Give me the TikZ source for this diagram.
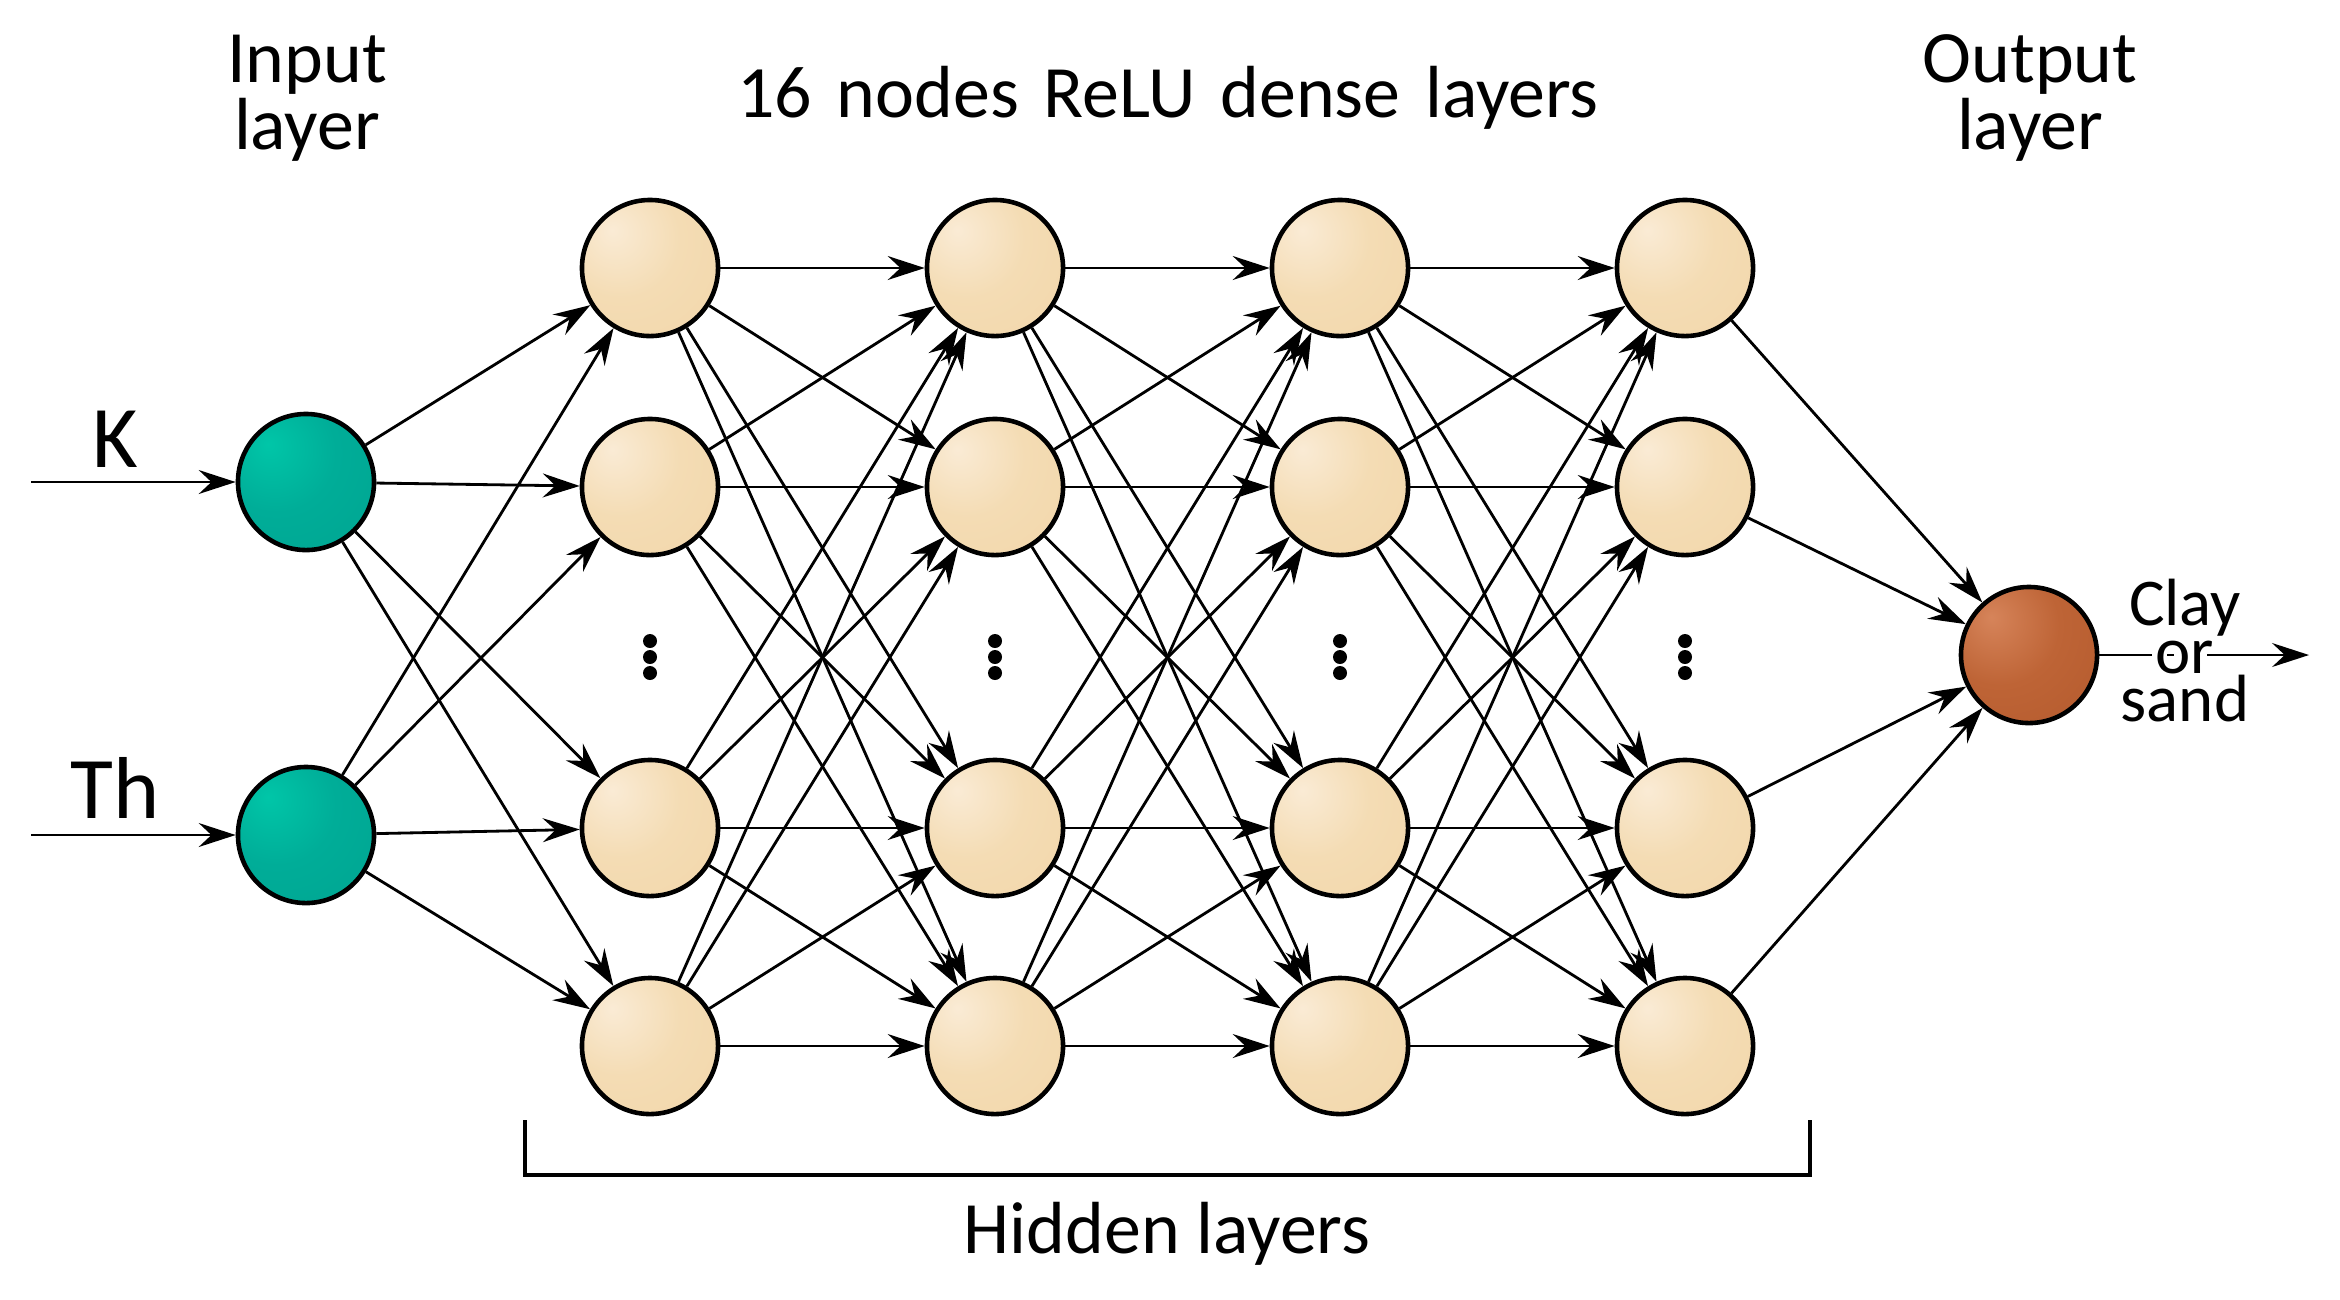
\documentclass[tikz,border=0pt]{standalone}
\usepackage{fontspec}
\setmainfont{Carlito}
\usetikzlibrary{arrows.meta}
\definecolor{beigeL}{HTML}{FAEBD5}
\definecolor{beigeM}{HTML}{F4DCB4}
\definecolor{beigeD}{HTML}{EFD2A2}
\definecolor{greenL}{HTML}{00C6A8}
\definecolor{greenM}{HTML}{00AD98}
\definecolor{greenD}{HTML}{009E8C}
\definecolor{brownL}{HTML}{D6845A}
\definecolor{brownM}{HTML}{BE6436}
\definecolor{brownD}{HTML}{AC5226}
\pgfdeclareradialshading{beigeball}{\pgfpoint{-14bp}{14bp}}{color(0bp)=(beigeL); color(22bp)=(beigeM); color(70bp)=(beigeD); color(100bp)=(beigeD)}
\pgfdeclareradialshading{greenball}{\pgfpoint{-14bp}{14bp}}{color(0bp)=(greenL); color(22bp)=(greenM); color(70bp)=(greenD); color(100bp)=(greenD)}
\pgfdeclareradialshading{brownball}{\pgfpoint{-14bp}{14bp}}{color(0bp)=(brownL); color(22bp)=(brownM); color(70bp)=(brownD); color(100bp)=(brownD)}
\newcommand\mytitlefont{\fontsize{21}{19.06}\selectfont}
\newcommand\myclayfont{\fontsize{19}{13.66}\selectfont}
\newcommand\myinfont{\fontsize{25}{30}\selectfont}
\begin{document}
\begin{tikzpicture}[x=0.01cm,y=-0.01cm,
  edge/.style={line width=0.8pt,-{Stealth[length=10.5pt,width=6.8pt,inset=3.6pt]}},
  plainline/.style={line width=0.8pt},
  neuron/.style={circle,draw=black,line width=1.3pt,minimum size=1.36cm,inner sep=0pt},
  innode/.style={neuron,shading=greenball},
  hidnode/.style={neuron,shading=beigeball},
  outnode/.style={neuron,shading=brownball},
  dotnode/.style={circle,fill=black,minimum size=0.14cm,inner sep=0pt},
  ttl/.style={font=\mytitlefont,anchor=base,align=center,text width=5cm,inner sep=0pt},
  lab/.style={font=\myinfont,anchor=base,inner sep=0pt}]
\useasboundingbox (0,0) rectangle (2340,1299);

% titles
\node[ttl] (tin) at (307,82) {Input\\layer};
\node[ttl,text width=12cm] (thid) at (1168,117) {16 nodes ReLU dense layers};
\node[ttl] (tout) at (2030,82) {Output\\layer};

% input nodes
\node[innode] (i1) at (306,482) {};
\node[innode] (i2) at (306,835) {};

% hidden nodes
\foreach \c/\x in {1/650,2/995,3/1340,4/1685}{
  \foreach \r/\y in {1/268,2/487,3/828,4/1046}{
    \node[hidnode] (h\c\r) at (\x,\y) {};
  }
  \foreach \k/\y in {1/641,2/657,3/673}{
    \node[dotnode] (d\c\k) at (\x,\y) {};
  }
}

% output node
\node[outnode] (o) at (2029,655) {};

% input labels and arrows
\node[lab] (lK) at (115,467) {K};
\node[lab] (lTh) at (115,818) {Th};
\coordinate (inK) at (31,482);
\coordinate (inTh) at (31,835);
\draw[edge] (inK) -- (i1);
\draw[edge] (inTh) -- (i2);

% input -> hidden 1
\foreach \i in {1,2}{
  \foreach \r in {1,2,3,4}{
    \draw[edge] (i\i) -- (h1\r);
  }
}
% hidden -> hidden
\foreach \c/\n in {1/2,2/3,3/4}{
  \foreach \r in {1,2,3,4}{
    \foreach \s in {1,2,3,4}{
      \draw[edge] (h\c\r) -- (h\n\s);
    }
  }
}
% hidden 4 -> output
\foreach \r in {1,2,3,4}{
  \draw[edge] (h4\r) -- (o);
}

% output arrow and label
\node[font=\myclayfont,anchor=base,align=center,text width=3cm,inner sep=0pt] (clay) at (2185,625) {Clay\\or\\sand};
\coordinate (g1) at (2152,655);
\coordinate (ga) at (2167,655);
\coordinate (gb) at (2174,655);
\coordinate (g2) at (2207,655);
\coordinate (oend) at (2309,655);
\draw[plainline] (o) -- (g1);
\draw[plainline] (ga) -- (gb);
\draw[edge] (g2) -- (oend);

% bracket
\coordinate (bL) at (525,1120);
\coordinate (bR) at (1810,1120);
\draw[line width=1.2pt] (bL) -- ++(0,55) -| (bR);
\node[font=\mytitlefont,anchor=base,inner sep=0pt] (hid) at (1167,1253) {Hidden layers};
\end{tikzpicture}
\end{document}
